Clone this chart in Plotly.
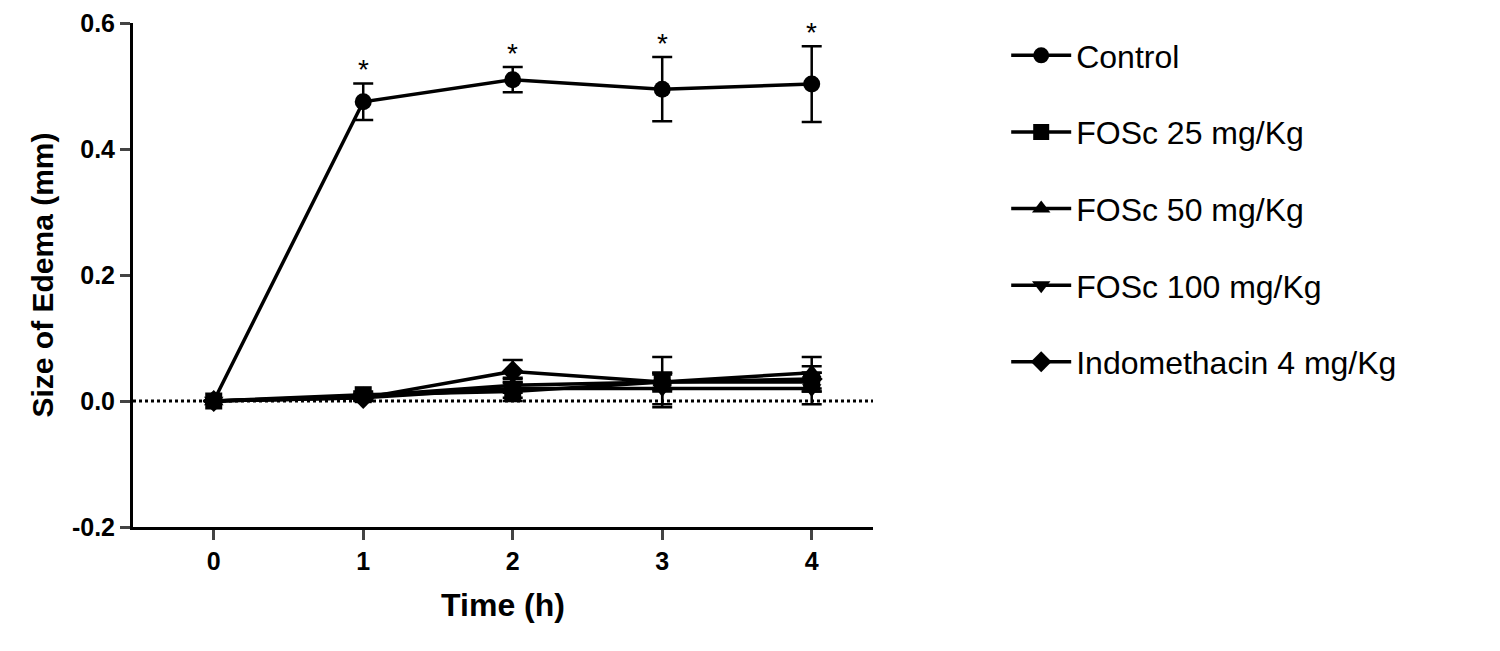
import plotly.graph_objects as go

time = [0, 1, 2, 3, 4]
names = ["Control", "FOSc 25 mg/Kg", "FOSc 50 mg/Kg", "FOSc 100 mg/Kg", "Indomethacin 4 mg/Kg"]
control = [0, 0.475, 0.510, 0.495, 0.503]
control_err = [0, 0.029, 0.020, 0.051, 0.060]
fosc25 = [0, 0.010, 0.015, 0.030, 0.030]
fosc25_err = [0, 0.005, 0.015, 0.012, 0.015]
fosc50 = [0, 0.008, 0.025, 0.030, 0.045]
fosc50_err = [0, 0.004, 0.012, 0.040, 0.025]
fosc100 = [0, 0.005, 0.020, 0.020, 0.020]
fosc100_err = [0, 0.005, 0.015, 0.025, 0.025]
indo = [0, 0.005, 0.047, 0.030, 0.035]
indo_err = [0, 0.004, 0.018, 0.015, 0.020]
symbols = ["circle", "square", "triangle-up", "triangle-down", "diamond"]
series = [control, fosc25, fosc50, fosc100, indo]
errs = [control_err, fosc25_err, fosc50_err, fosc100_err, indo_err]
yticks = [-0.2, 0, 0.2, 0.4, 0.6]
ylabels = ["-0.2", "0.0", "0.2", "0.4", "0.6"]

fig = go.Figure()
fig.add_trace(go.Scatter(x=[-0.54, 4.41], y=[0, 0], mode="lines",
                         line=dict(color="black", width=3, dash="dot"), showlegend=False, hoverinfo="skip"))
for i, (n, s, e, sym) in enumerate(zip(names, series, errs, symbols)):
    fig.add_trace(go.Scatter(x=time, y=s, name=n, mode="lines+markers", legendgroup=str(i),
                             line=dict(color="black", width=3.5),
                             marker=dict(symbol=sym, size=17, color="black"),
                             error_y=dict(type="data", array=e, color="black", thickness=2.5, width=10)))
for t, v, e in zip(time[1:], control[1:], control_err[1:]):
    fig.add_annotation(x=t, y=v + e, text="*", showarrow=False, yshift=14,
                       font=dict(size=28, color="black", family="Arial"))

fig.update_layout(
    width=1500, height=651, plot_bgcolor="white", paper_bgcolor="white",
    margin=dict(l=125, r=635, t=15, b=132, autoexpand=False),
    font=dict(family="Arial", color="black"),
    legend=dict(x=1.18, y=0.99, xanchor="left", yanchor="top", font=dict(size=32),
                tracegroupgap=32, itemwidth=60, bgcolor="rgba(0,0,0,0)"),
    xaxis=dict(range=[-0.54, 4.41], tickvals=time, ticktext=["<b>%d</b>" % t for t in time],
               showgrid=False, zeroline=False, showline=True, linecolor="black", linewidth=3,
               ticks="outside", ticklen=10, tickwidth=3, tickfont=dict(size=25, family="Arial"),
               automargin=False,
               title=dict(text="<b>Time (h)</b>", font=dict(size=32), standoff=20)),
    yaxis=dict(range=[-0.2, 0.6], tickvals=yticks, ticktext=["<b>%s</b>" % l for l in ylabels],
               showgrid=False, zeroline=False, showline=True, linecolor="black", linewidth=3,
               ticks="outside", ticklen=10, tickwidth=3, tickfont=dict(size=25, family="Arial"),
               automargin=False,
               title=dict(text="<b>Size of Edema (mm)</b>", font=dict(size=30), standoff=10)),
)
fig.write_html("out.html")
